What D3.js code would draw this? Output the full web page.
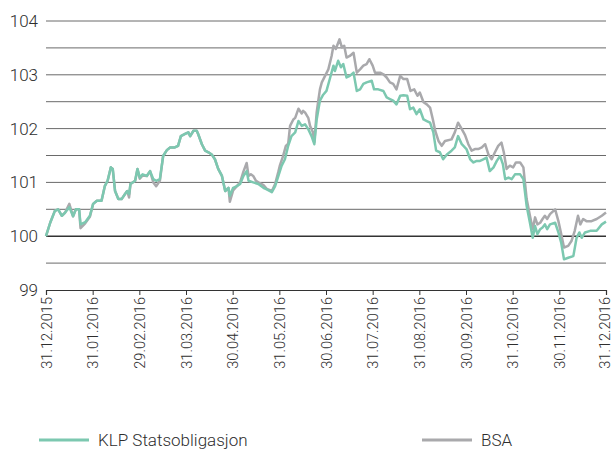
<!DOCTYPE html>
<html>
<head>
<meta charset="utf-8">
<script src="https://cdn.jsdelivr.net/npm/d3@7"></script>
<style>
  body { margin: 0; background: #fff; }
  text { font-family: Roboto, "Noto Sans", sans-serif; font-weight: 300; fill: #2e2e2e; }
</style>
</head>
<body>
<div id="chart-area"></div>
<script>
// x positions are in months from 31.12.2015 (0) to 31.12.2016 (12)
var tickLabels = ["31.12.2015","31.01.2016","29.02.2016","31.03.2016","30.04.2016","31.05.2016",
  "30.06.2016","31.07.2016","31.08.2016","30.09.2016","31.10.2016","30.11.2016","31.12.2016"];
var yTicks = [99, 100, 101, 102, 103, 104];

var klpPos = [0,0.09,0.19,0.26,0.34,0.41,0.50,0.58,0.64,0.71,0.74,0.84,0.94,1.01,1.09,1.19,1.26,1.32,1.39,1.43,
  1.48,1.55,1.62,1.69,1.74,1.78,1.81,1.91,1.96,2.01,2.07,2.16,2.23,2.30,2.36,2.44,2.51,2.59,2.66,2.76,
  2.83,2.89,2.98,3.05,3.09,3.16,3.23,3.26,3.34,3.41,3.48,3.55,3.62,3.69,3.77,3.84,3.91,3.94,4.01,4.09,
  4.16,4.23,4.30,4.34,4.44,4.55,4.66,4.73,4.84,4.91,4.98,5.05,5.12,5.19,5.26,5.34,5.41,5.48,5.55,5.62,
  5.69,5.75,5.80,5.87,5.94,6.01,6.09,6.16,6.19,6.26,6.32,6.37,6.44,6.51,6.59,6.66,6.73,6.80,6.87,6.98,
  7.03,7.12,7.23,7.30,7.37,7.44,7.51,7.59,7.66,7.74,7.80,7.87,7.94,8.01,8.09,8.16,8.23,8.30,8.36,8.44,
  8.51,8.59,8.69,8.76,8.83,8.91,9.01,9.09,9.16,9.23,9.30,9.37,9.44,9.51,9.59,9.66,9.73,9.79,9.84,9.91,
  9.98,10.05,10.16,10.23,10.30,10.37,10.43,10.48,10.53,10.59,10.64,10.69,10.74,10.80,10.91,10.98,11.04,11.10,11.19,11.30,
  11.37,11.43,11.48,11.55,11.66,11.80,11.91,12];
var klpVal = [100.0,100.25,100.47,100.5,100.38,100.44,100.54,100.37,100.5,100.5,100.22,100.26,100.38,100.6,100.66,100.66,100.93,101.03,101.28,101.25,
  100.84,100.69,100.69,100.78,100.84,100.78,100.97,101.03,101.25,101.09,101.15,101.12,101.21,101.06,101.03,101.06,101.49,101.6,101.65,101.65,
  101.68,101.86,101.9,101.93,101.86,101.96,101.96,101.9,101.71,101.59,101.56,101.52,101.43,101.25,101.12,100.84,100.9,100.75,100.9,100.93,
  100.97,101.12,101.21,101.03,101.0,100.97,100.9,100.87,100.82,100.93,101.12,101.31,101.43,101.68,101.86,101.93,102.14,102.05,102.08,101.99,
  101.86,101.71,102.17,102.52,102.63,102.7,102.95,103.17,103.07,103.26,103.14,103.2,102.95,102.98,103.04,102.7,102.73,102.83,102.86,102.89,
  102.73,102.73,102.7,102.58,102.55,102.52,102.45,102.61,102.62,102.61,102.36,102.39,102.27,102.36,102.17,102.14,102.11,101.93,101.59,101.56,
  101.43,101.52,101.59,101.65,101.86,101.71,101.62,101.43,101.37,101.4,101.4,101.43,101.46,101.21,101.28,101.4,101.49,101.34,101.06,101.09,
  101.06,101.15,101.15,101.06,100.56,100.25,99.97,100.19,100.04,100.13,100.16,100.22,100.13,100.22,100.25,100.07,99.88,99.57,99.6,99.63,
  99.97,100.07,99.97,100.07,100.1,100.1,100.22,100.27];

var bsaPos = [0,0.09,0.19,0.26,0.34,0.41,0.50,0.58,0.64,0.71,0.74,0.84,0.94,1.01,1.09,1.19,1.26,1.32,1.39,1.43,
  1.48,1.55,1.62,1.69,1.74,1.78,1.81,1.91,1.96,2.01,2.07,2.16,2.23,2.30,2.36,2.44,2.51,2.59,2.66,2.76,
  2.83,2.89,2.98,3.05,3.09,3.16,3.23,3.26,3.34,3.41,3.48,3.55,3.62,3.69,3.77,3.84,3.91,3.94,4.01,4.09,
  4.16,4.23,4.30,4.34,4.39,4.44,4.50,4.55,4.66,4.73,4.84,4.91,4.98,5.01,5.08,5.14,5.19,5.23,5.30,5.34,
  5.41,5.48,5.51,5.55,5.62,5.66,5.72,5.75,5.80,5.84,5.87,5.91,5.98,6.05,6.12,6.16,6.21,6.29,6.34,6.39,
  6.44,6.51,6.59,6.66,6.73,6.80,6.87,6.93,7.00,7.05,7.16,7.23,7.30,7.37,7.44,7.51,7.59,7.66,7.74,7.81,
  7.89,7.96,8.01,8.09,8.16,8.23,8.29,8.34,8.41,8.48,8.55,8.69,8.76,8.83,8.91,8.98,9.05,9.12,9.19,9.26,
  9.34,9.41,9.48,9.55,9.62,9.69,9.76,9.81,9.87,9.94,10.01,10.07,10.16,10.23,10.30,10.37,10.43,10.48,10.53,10.59,
  10.64,10.69,10.74,10.80,10.91,10.98,11.04,11.10,11.19,11.26,11.33,11.40,11.45,11.51,11.58,11.69,11.80,11.91,12];
var bsaVal = [100.0,100.25,100.47,100.5,100.38,100.44,100.6,100.37,100.5,100.5,100.15,100.24,100.36,100.6,100.66,100.66,100.93,101.03,101.28,101.25,
  100.84,100.69,100.69,100.78,100.84,100.72,100.97,101.03,101.25,101.07,101.13,101.12,101.21,101.0,100.93,101.03,101.49,101.6,101.65,101.65,
  101.68,101.86,101.9,101.93,101.86,101.96,101.96,101.9,101.71,101.59,101.56,101.52,101.43,101.25,101.12,100.84,100.9,100.64,100.85,100.93,
  101.0,101.2,101.36,101.12,101.15,101.12,101.03,101.0,100.95,100.88,100.84,100.97,101.2,101.31,101.49,101.68,101.72,102.05,102.17,102.2,
  102.37,102.28,102.33,102.3,102.2,102.05,101.93,101.75,102.3,102.55,102.73,102.86,102.98,103.1,103.35,103.54,103.48,103.66,103.51,103.54,
  103.32,103.35,103.41,103.04,103.1,103.17,103.2,103.29,103.17,103.04,103.04,103.01,102.95,102.86,102.83,102.73,102.98,102.92,102.92,102.7,
  102.73,102.61,102.67,102.49,102.45,102.39,102.17,101.96,101.77,101.68,101.77,101.8,101.93,102.11,101.99,101.88,101.71,101.59,101.62,101.62,
  101.65,101.71,101.52,101.43,101.56,101.68,101.74,101.56,101.25,101.31,101.28,101.37,101.37,101.28,100.69,100.38,100.13,100.35,100.22,100.25,
  100.32,100.38,100.32,100.41,100.5,100.28,100.04,99.79,99.82,99.91,100.1,100.38,100.22,100.32,100.28,100.28,100.32,100.38,100.44];

var seriesNames = ["KLP Statsobligasjon", "BSA"];
var colors = ["#7cc8b0", "#a9a9ac"];

var margin = { top: 21, right: 8, bottom: 161, left: 46 };
var width = 614 - margin.left - margin.right;
var height = 451 - margin.top - margin.bottom;

var svg = d3.select("#chart-area")
	.append("svg")
		.attr("width", 614)
		.attr("height", 451);
var g = svg.append("g")
	.attr("transform", "translate(" + margin.left + "," + margin.top + ")");

var x = d3.scaleLinear().domain([0, 12]).range([0, width]);
var y = d3.scaleLinear().domain([99, 104]).range([height, 0]);

// gridlines every 0.5
var grid = d3.range(99.5, 104.01, 0.5);
g.selectAll(".grid")
	.data(grid)
	.enter().append("line")
		.attr("x1", 0).attr("x2", width)
		.attr("y1", function(d){ return y(d); })
		.attr("y2", function(d){ return y(d); })
		.attr("stroke", function(d){ return d === 100 ? "#333" : "#6a6a6a"; })
		.attr("stroke-width", function(d){ return d === 100 ? 1.6 : 1; });

// y labels
g.selectAll(".ylab")
	.data(yTicks)
	.enter().append("text")
		.attr("x", -8)
		.attr("y", function(d){ return y(d); })
		.attr("dy", "0.35em")
		.attr("text-anchor", "end")
		.attr("font-size", "17px")
		.text(function(d){ return d; });

// x axis
var bottomAxis = d3.axisBottom(x)
	.tickValues(d3.range(0, 13))
	.tickSize(5)
	.tickFormat(function(d){ return tickLabels[d]; });
var xa = g.append("g")
	.attr("transform", "translate(0," + height + ")")
	.call(bottomAxis);
xa.select(".domain").attr("stroke", "#333").attr("stroke-width", 1.2);
xa.selectAll(".tick line").attr("stroke", "#333");
xa.selectAll(".tick text")
	.attr("x", -7)
	.attr("y", function(d){ return d === 12 ? -1.5 : 0; })
	.attr("dy", "0.35em")
	.attr("transform", "rotate(-90)")
	.attr("text-anchor", "end")
	.attr("font-size", "14.6px")
	.attr("font-family", "Roboto, sans-serif")
	.attr("font-weight", 400)
	.attr("fill", "#3a3a3a");

var line = d3.line()
	.x(function(d){ return x(d[0]); })
	.y(function(d){ return y(d[1]); });

var bsa = d3.zip(bsaPos, bsaVal);
var klp = d3.zip(klpPos, klpVal);

g.append("path")
	.datum(bsa)
	.attr("fill", "none")
	.attr("stroke", colors[1])
	.attr("stroke-width", 2.5)
	.attr("stroke-linejoin", "round")
	.attr("d", line);

g.append("path")
	.datum(klp)
	.attr("fill", "none")
	.attr("stroke", colors[0])
	.attr("stroke-width", 2.5)
	.attr("stroke-linejoin", "round")
	.attr("d", line);

// legend
var legX = [39, 422];
var leg = svg.selectAll(".legend")
	.data(seriesNames)
	.enter().append("g")
		.attr("transform", function(d, i){ return "translate(" + legX[i] + ",440)"; });
leg.append("line")
	.attr("x1", 0).attr("x2", 50)
	.attr("stroke", function(d, i){ return colors[i]; })
	.attr("stroke-width", 3);
leg.append("text")
	.attr("x", 59)
	.attr("dy", "0.35em")
	.attr("font-size", "17px")
	.text(function(d){ return d; });
</script>
</body>
</html>
